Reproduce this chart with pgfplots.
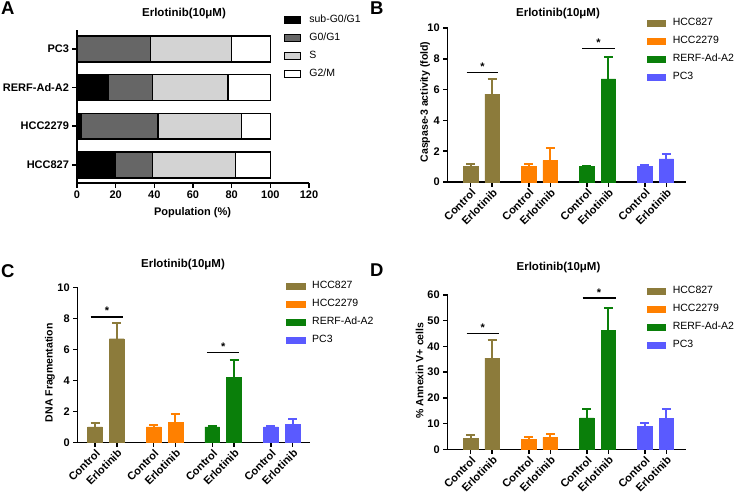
\documentclass[border=0pt]{standalone}
\usepackage{fontspec}
\setmainfont{Liberation Sans}
\usepackage{pgfplots}
\pgfplotsset{compat=1.18}

\definecolor{cOlive}{HTML}{8C7B3B}
\definecolor{cOrange}{HTML}{FF8000}
\definecolor{cGreen}{HTML}{0A7F0A}
\definecolor{cBlue}{HTML}{5A5AFF}
\definecolor{gGone}{HTML}{666666}
\definecolor{gS}{HTML}{D3D3D3}

\newcommand{\tfont}{\bfseries\fontsize{11}{13}\selectfont}
\newcommand{\lfont}{\fontsize{10.5}{12}\selectfont}
\newcommand{\ttl}{\bfseries\fontsize{11.5}{13}\selectfont}
\newcommand{\letter}{\bfseries\fontsize{18.5}{20}\selectfont}

% bar patch for legends
\newcommand{\barpatch}[1]{\fill[#1] (0pt,-3pt) rectangle (18.5pt,3pt);}
\newcommand{\boxpatch}[1]{\draw[fill=#1, line width=1.2pt] (0pt,-3.6pt) rectangle (16pt,3.6pt);}

\pgfplotsset{
  panel/.style={
    scale only axis, clip=false,
    axis x line*=bottom, axis y line*=left,
    x axis line style={-}, y axis line style={-},
    axis line style={line width=1.5pt},
    tick style={line width=1.5pt, black},
    tick align=outside, major tick length=4.5pt,
    tick label style={font=\tfont},
    /pgf/number format/assume math mode=true,
    label style={font=\tfont},
    legend style={draw=none, fill=none, inner sep=0pt, row sep=6.5pt,
      column sep=6pt, font=\lfont, anchor=north west,
      nodes={inner sep=1pt, text height=7.5pt, text depth=2pt}},
    legend cell align=left,
  },
  barpanel/.style={
    panel, width=238pt, height=154pt,
    xmin=-1.07, xmax=10, ymin=0,
    ybar, bar width=0.68,
    xtick={0,1,2.7,3.7,5.4,6.4,8.1,9.1},
    xticklabels={Control,Erlotinib,Control,Erlotinib,Control,Erlotinib,Control,Erlotinib},
    xticklabel style={rotate=45, anchor=north east, inner sep=1pt},
    ylabel style={font=\bfseries\fontsize{10.5}{12}\selectfont},
    error bars/y dir=plus, error bars/y explicit,
    error bars/error mark=|,
  },
  grp/.style={fill=#1, draw=#1, bar shift=0pt,
    error bars/error bar style={line width=2pt, draw=#1, solid},
    error bars/error mark options={draw=#1, line width=2pt, mark size=4.5pt, solid},
    legend image code/.code={\barpatch{#1}}},
}

\begin{document}
\begin{tikzpicture}
\path[use as bounding box] (0pt,0pt) rectangle (736pt,499pt);

% ---------------- A: cell cycle ----------------
\begin{axis}[panel, at={(77pt,316pt)}, anchor=south west,
  width=232pt, height=153pt,
  xbar stacked, bar width=0.67,
  xmin=0, xmax=120, ymin=-0.47, ymax=3.49,
  xtick={0,20,...,120}, ytick={0,1,2,3},
  yticklabels={HCC827,HCC2279,RERF-Ad-A2,PC3},
  xlabel={Population (\%)},
  xlabel style={at={(axis description cs:0.498,-0.196)}, anchor=center},
  legend style={at={(axis description cs:0.892,1.103)}, column sep=7pt},
]
\addplot[fill=black, draw=black, line width=1.5pt,
  legend image code/.code={\boxpatch{black}}]
  coordinates {(20,0) (2,1) (16,2) (0,3)};
\addlegendentry{sub-G0/G1}
\addplot[fill=gGone, draw=black, line width=1.5pt,
  legend image code/.code={\boxpatch{gGone}}]
  coordinates {(19,0) (40,1) (23,2) (38,3)};
\addlegendentry{G0/G1}
\addplot[fill=gS, draw=black, line width=1.5pt,
  legend image code/.code={\boxpatch{gS}}]
  coordinates {(43,0) (43,1) (39,2) (42,3)};
\addlegendentry{S}
\addplot[fill=white, draw=black, line width=1.5pt,
  legend image code/.code={\boxpatch{white}}]
  coordinates {(18,0) (15,1) (22,2) (20,3)};
\addlegendentry{G2/M}
\end{axis}

% ---------------- B: caspase-3 ----------------
\begin{axis}[barpanel, at={(447.7pt,317pt)}, anchor=south west,
  ymax=10, ytick={0,2,...,10},
  ylabel={Caspase-3 activity (fold)},
  ylabel style={at={(axis description cs:-0.095,0.52)}, anchor=center},
  legend style={at={(axis description cs:0.836,1.07)}},
]
\addplot[grp=cOlive] coordinates {(0,1.0) +- (0,0.2) (1,5.7) +- (0,1.0)};
\addlegendentry{HCC827}
\addplot[grp=cOrange] coordinates {(2.7,1.0) +- (0,0.15) (3.7,1.4) +- (0,0.8)};
\addlegendentry{HCC2279}
\addplot[grp=cGreen] coordinates {(5.4,1.0) +- (0,0.05) (6.4,6.7) +- (0,1.4)};
\addlegendentry{RERF-Ad-A2}
\addplot[grp=cBlue] coordinates {(8.1,1.0) +- (0,0.1) (9.1,1.5) +- (0,0.3)};
\addlegendentry{PC3}
\draw[line width=1.5pt] (axis cs:-0.19,7.1) -- (axis cs:1.28,7.1);
\node[font=\tfont, anchor=base, inner sep=0pt] at ([yshift=2pt]axis cs:0.55,7.1) {*};
\draw[line width=1.5pt] (axis cs:5.18,8.66) -- (axis cs:6.72,8.66);
\node[font=\tfont, anchor=base, inner sep=0pt] at ([yshift=2pt]axis cs:5.95,8.66) {*};
\end{axis}

% ---------------- C: DNA fragmentation ----------------
\begin{axis}[barpanel, at={(77.7pt,56.7pt)}, anchor=south west,
  width=232.3pt, height=154.6pt, xmin=-0.8, xmax=9.9,
  ymax=10, ytick={0,2,...,10},
  ylabel={DNA Fragmentation},
  ylabel style={at={(axis description cs:-0.119,0.45)}, anchor=center},
  legend style={at={(axis description cs:0.897,1.049)}},
]
\addplot[grp=cOlive] coordinates {(0,1.0) +- (0,0.22) (1,6.7) +- (0,1.0)};
\addlegendentry{HCC827}
\addplot[grp=cOrange] coordinates {(2.7,1.0) +- (0,0.12) (3.7,1.3) +- (0,0.55)};
\addlegendentry{HCC2279}
\addplot[grp=cGreen] coordinates {(5.4,1.0) +- (0,0.05) (6.4,4.2) +- (0,1.1)};
\addlegendentry{RERF-Ad-A2}
\addplot[grp=cBlue] coordinates {(8.1,1.0) +- (0,0.07) (9.1,1.15) +- (0,0.37)};
\addlegendentry{PC3}
\draw[line width=1.5pt] (axis cs:-0.2,8.12) -- (axis cs:1.3,8.12);
\node[font=\tfont, anchor=base, inner sep=0pt] at ([yshift=2pt]axis cs:0.55,8.12) {*};
\draw[line width=1.5pt] (axis cs:5.15,5.82) -- (axis cs:6.65,5.82);
\node[font=\tfont, anchor=base, inner sep=0pt] at ([yshift=2pt]axis cs:5.9,5.82) {*};
\end{axis}

% ---------------- D: annexin V ----------------
\begin{axis}[barpanel, at={(447.7pt,49.7pt)}, anchor=south west,
  width=238pt, height=154.3pt,
  ymax=60, ytick={0,10,...,60},
  ylabel={\% Annexin V+ cells},
  ylabel style={at={(axis description cs:-0.118,0.51)}, anchor=center},
  legend style={at={(axis description cs:0.836,1.066)}},
]
\addplot[grp=cOlive] coordinates {(0,4.3) +- (0,1.4) (1,35.5) +- (0,7.0)};
\addlegendentry{HCC827}
\addplot[grp=cOrange] coordinates {(2.7,3.8) +- (0,1.1) (3.7,4.6) +- (0,1.4)};
\addlegendentry{HCC2279}
\addplot[grp=cGreen] coordinates {(5.4,12.2) +- (0,3.3) (6.4,46.3) +- (0,8.7)};
\addlegendentry{RERF-Ad-A2}
\addplot[grp=cBlue] coordinates {(8.1,8.9) +- (0,1.2) (9.1,12.1) +- (0,3.4)};
\addlegendentry{PC3}
\draw[line width=1.5pt] (axis cs:-0.19,45.1) -- (axis cs:1.32,45.1);
\node[font=\tfont, anchor=base, inner sep=0pt] at ([yshift=2pt]axis cs:0.56,45.1) {*};
\draw[line width=1.5pt] (axis cs:5.2,58.8) -- (axis cs:6.74,58.8);
\node[font=\tfont, anchor=base, inner sep=0pt] at ([yshift=2pt]axis cs:5.97,58.8) {*};
\end{axis}

% titles and panel letters
\node[font=\ttl] at (184pt,485pt) {Erlotinib(10μM)};
\node[font=\ttl] at (558pt,485pt) {Erlotinib(10μM)};
\node[font=\ttl] at (183pt,234pt) {Erlotinib(10μM)};
\node[font=\ttl] at (558.5pt,231pt) {Erlotinib(10μM)};
\node[font=\letter, anchor=north west, inner sep=0pt] at (1pt,497pt) {A};
\node[font=\letter, anchor=north west, inner sep=0pt] at (370pt,497pt) {B};
\node[font=\letter, anchor=north west, inner sep=0pt] at (1pt,235pt) {C};
\node[font=\letter, anchor=north west, inner sep=0pt] at (370pt,235pt) {D};
\end{tikzpicture}
\end{document}
